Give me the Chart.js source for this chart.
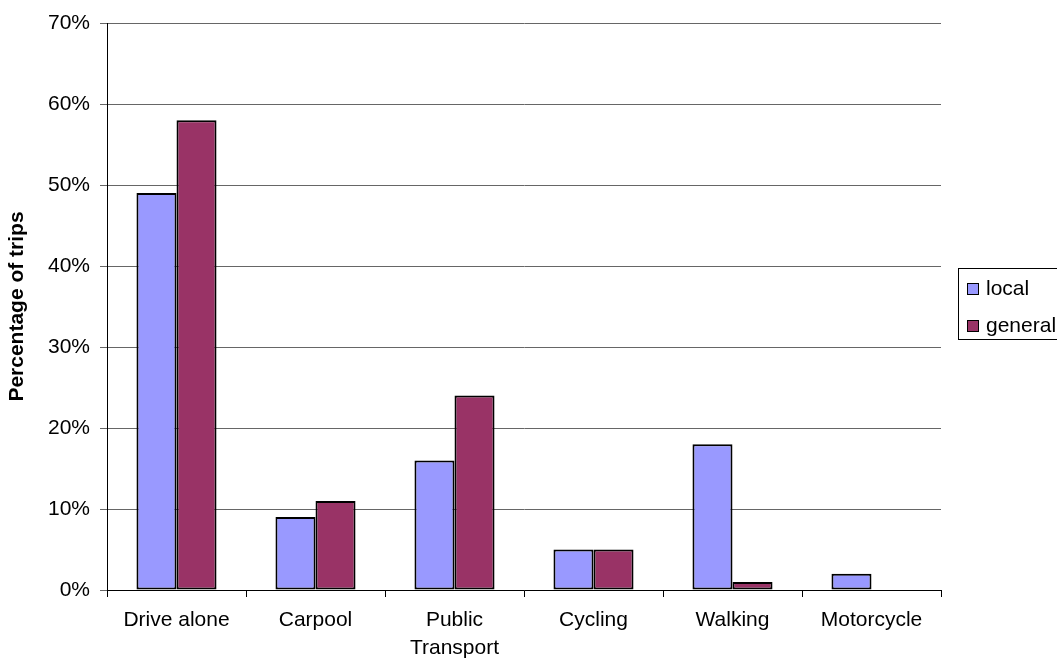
<!DOCTYPE html>
<html>
<head>
<meta charset="utf-8">
<script src="https://cdn.jsdelivr.net/npm/chart.js@4/dist/chart.umd.min.js"></script>
<style>
  html, body { margin: 0; padding: 0; background: #fff; }
  #wrap { width: 1057px; height: 664px; position: relative; }
</style>
</head>
<body>
<div id="wrap"><canvas id="chart"></canvas></div>
<script>
var categories = ["Drive alone", "Carpool", ["Public", "Transport"], "Cycling", "Walking", "Motorcycle"];
var localValues = [49, 9, 16, 5, 18, 2];
var generalValues = [58, 11, 24, 5, 1, 0];
var seriesNames = ["local", "general"];
var seriesColors = ["#9999FF", "#993366"];

var FONT = "Arial, 'Liberation Sans', sans-serif";

// legend box drawn by hand, like the old Excel one
var boxLegend = {
    id: "boxLegend",
    afterDraw: function (chart) {
        var ctx = chart.ctx;
        ctx.save();
        ctx.strokeStyle = "#000";
        ctx.lineWidth = 1;
        ctx.strokeRect(958.5, 268.5, 110, 71);
        ctx.font = "21px " + FONT;
        ctx.textBaseline = "middle";
        chart.data.datasets.forEach(function (ds, i) {
            var y = 283 + i * 37;
            ctx.fillStyle = ds.backgroundColor;
            ctx.fillRect(967, y, 12, 12);
            ctx.strokeStyle = "#000";
            ctx.strokeRect(967.5, y + 0.5, 11, 11);
            ctx.fillStyle = "#000";
            ctx.fillText(ds.label, 986, y + 6);
        });
        ctx.restore();
    }
};

new Chart(document.getElementById("chart"), {
    type: "bar",
    data: {
        labels: categories,
        datasets: [
            { label: seriesNames[0], data: localValues, backgroundColor: seriesColors[0],
              borderColor: "#000", borderWidth: 2, borderSkipped: false },
            { label: seriesNames[1], data: generalValues, backgroundColor: seriesColors[1],
              borderColor: "#000", borderWidth: 2, borderSkipped: false }
        ]
    },
    options: {
        responsive: true,
        maintainAspectRatio: false,
        animation: false,
        layout: { padding: { top: 23, right: 116, left: 0, bottom: 0 } },
        datasets: { bar: { categoryPercentage: 0.576, barPercentage: 1.0 } },
        plugins: {
            legend: { display: false },
            tooltip: { enabled: false }
        },
        scales: {
            x: {
                afterFit: function (s) { s.height = 74; },
                grid: { offset: true, drawOnChartArea: false, drawTicks: true, tickLength: 7, color: "#000" },
                border: { color: "#000", width: 1 },
                ticks: { color: "#000", font: { family: FONT, size: 21, lineHeight: 1.3 }, padding: 10, maxRotation: 0, autoSkip: false }
            },
            y: {
                min: 0,
                max: 70,
                afterFit: function (s) { s.width = 107; },
                grid: { color: "#666", tickLength: 7, lineWidth: 1 },
                border: { color: "#000", width: 1 },
                ticks: {
                    stepSize: 10,
                    padding: 10,
                    color: "#000",
                    font: { family: FONT, size: 21 },
                    callback: function (v) { return v + "%"; }
                },
                title: {
                    display: true,
                    text: "Percentage of trips",
                    color: "#000",
                    font: { family: FONT, size: 21, weight: "bold" },
                    padding: { top: 5, bottom: 4 }
                }
            }
        }
    },
    plugins: [boxLegend]
});
</script>
</body>
</html>
